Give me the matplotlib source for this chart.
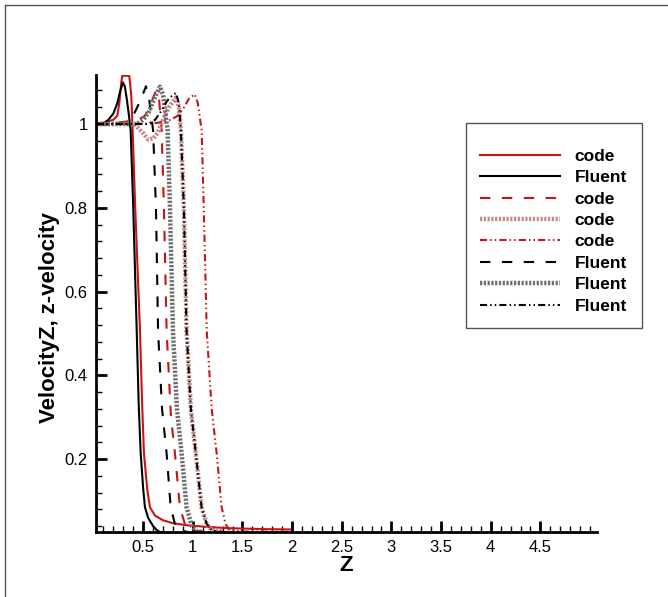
import matplotlib.pyplot as plt
from matplotlib.lines import Line2D
from matplotlib.patches import Rectangle
from matplotlib.ticker import AutoMinorLocator

plt.rcParams['font.family'] = ['Liberation Sans', 'DejaVu Sans']

# z-velocity profiles along Z: in-house code vs Fluent, four cases
z_code1 = [0.03, 0.1, 0.2, 0.24, 0.26, 0.28, 0.29, 0.36, 0.38, 0.394, 0.42, 0.468, 0.49,
           0.508, 0.54, 0.568, 0.62, 0.70, 0.80, 0.94, 1.15, 1.37, 1.7, 1.98]
w_code1 = [1.0, 1.003, 1.01, 1.02, 1.05, 1.10, 1.115, 1.115, 1.07, 0.985, 0.80, 0.507, 0.33,
           0.214, 0.13, 0.085, 0.065, 0.054, 0.047, 0.042, 0.038, 0.035, 0.033, 0.032]

z_fluent1 = [0.03, 0.1, 0.15, 0.2, 0.24, 0.27, 0.297, 0.315, 0.335, 0.357, 0.374, 0.40,
             0.435, 0.455, 0.475, 0.50, 0.518, 0.55, 0.60, 0.64, 0.67, 0.72]
w_fluent1 = [1.0, 1.002, 1.01, 1.025, 1.05, 1.08, 1.099, 1.09, 1.06, 1.02, 0.985, 0.80,
             0.507, 0.33, 0.214, 0.13, 0.085, 0.06, 0.04, 0.03, 0.026, 0.025]

z_code2 = [0.03, 0.3, 0.45, 0.52, 0.58, 0.62, 0.64, 0.66, 0.686, 0.709, 0.736, 0.78,
           0.82, 0.87, 0.92, 0.99, 1.1]
w_code2 = [1.0, 1.005, 1.01, 1.02, 1.05, 1.075, 1.08, 1.06, 0.985, 0.80, 0.507, 0.30,
           0.214, 0.085, 0.045, 0.03, 0.027]

z_code3 = [0.03, 0.4, 0.45, 0.5, 0.55, 0.6, 0.65, 0.7, 0.76, 0.83, 0.86, 0.88, 0.91,
           0.937, 0.98, 1.03, 1.088, 1.14, 1.19, 1.3]
w_code3 = [1.0, 1.0, 0.99, 0.978, 0.963, 0.965, 0.98, 1.01, 1.04, 1.063, 1.04, 0.985, 0.80,
           0.507, 0.32, 0.214, 0.085, 0.045, 0.03, 0.027]

z_code4 = [0.03, 0.5, 0.65, 0.78, 0.85, 0.9, 0.96, 1.02, 1.05, 1.089, 1.11, 1.14, 1.19,
           1.24, 1.29, 1.33, 1.37, 1.5, 1.98]
w_code4 = [1.0, 1.0, 1.003, 1.01, 1.02, 1.035, 1.06, 1.071, 1.05, 0.985, 0.80, 0.507, 0.32,
           0.214, 0.085, 0.045, 0.03, 0.027, 0.026]

z_fluent2 = [0.03, 0.35, 0.42, 0.48, 0.528, 0.56, 0.60, 0.629, 0.65, 0.69, 0.736, 0.777,
             0.82, 0.87, 0.95]
w_fluent2 = [1.0, 1.0, 1.03, 1.06, 1.09, 1.06, 0.985, 0.80, 0.507, 0.32, 0.214, 0.085,
             0.045, 0.03, 0.026]

z_fluent3 = [0.03, 0.44, 0.5, 0.56, 0.62, 0.669, 0.70, 0.746, 0.77, 0.80, 0.84, 0.887,
             0.937, 0.99, 1.04, 1.1]
w_fluent3 = [1.0, 1.0, 1.01, 1.03, 1.065, 1.089, 1.07, 0.985, 0.80, 0.507, 0.32, 0.214,
             0.085, 0.04, 0.028, 0.026]

z_fluent4 = [0.03, 0.55, 0.62, 0.68, 0.74, 0.80, 0.83, 0.86, 0.88, 0.91, 0.937, 0.98,
             1.03, 1.088, 1.14, 1.19, 1.3]
w_fluent4 = [1.0, 1.0, 1.01, 1.03, 1.055, 1.07, 1.074, 1.05, 0.985, 0.80, 0.507, 0.32,
             0.214, 0.085, 0.045, 0.03, 0.026]

x_ticks = [0.5, 1, 1.5, 2, 2.5, 3, 3.5, 4, 4.5]
x_ticklabels = ['0.5', '1', '1.5', '2', '2.5', '3', '3.5', '4', '4.5']
y_ticks = [0.2, 0.4, 0.6, 0.8, 1.0]
y_ticklabels = ['0.2', '0.4', '0.6', '0.8', '1']

red = '#c81414'
dashed = (0, (5, 5.5))
dashdotdot = (0, (3.4, 1.5, 0.7, 1.5, 0.7, 1.5))
dotted = (0, (0.5, 0.35))

fig = plt.figure(figsize=(6.68, 5.97), dpi=100)
ax = fig.add_axes([0.1437, 0.1089, 0.75, 0.7655])

ax.plot(z_code1, w_code1, color=red, lw=1.5, label='code')
ax.plot(z_fluent1, w_fluent1, color='black', lw=1.5, label='Fluent')
ax.plot(z_code2, w_code2, color=red, lw=1.5, ls=dashed, label='code')
ax.plot(z_code3, w_code3, color='#c48a8a', lw=3.2, ls=dotted, label='code')
ax.plot(z_code4, w_code4, color=red, lw=1.5, ls=dashdotdot, label='code')
ax.plot(z_fluent2, w_fluent2, color='black', lw=1.5, ls=dashed, label='Fluent')
ax.plot(z_fluent3, w_fluent3, color='#6e6e6e', lw=3.2, ls=dotted, label='Fluent')
ax.plot(z_fluent4, w_fluent4, color='black', lw=1.5, ls=dashdotdot, label='Fluent')

ax.set_xlim(0.025, 5.07)
ax.set_ylim(0.026, 1.117)

ax.set_xticks(x_ticks)
ax.set_xticklabels(x_ticklabels)
ax.set_yticks(y_ticks)
ax.set_yticklabels(y_ticklabels)
ax.xaxis.set_minor_locator(AutoMinorLocator(5))
ax.yaxis.set_minor_locator(AutoMinorLocator(5))

ax.tick_params(which='major', direction='in', length=8, width=2, labelsize=12, pad=6)
ax.tick_params(which='minor', direction='in', length=4, width=1)
for side in ['top', 'right']:
    ax.spines[side].set_visible(False)
for side in ['left', 'bottom']:
    ax.spines[side].set_linewidth(2)

ax.set_xlabel('Z', fontsize=16, fontweight='bold', labelpad=0)
ax.set_ylabel('VelocityZ, z-velocity', fontsize=16, fontweight='bold')
ax.yaxis.set_label_coords(-0.072, 0.47)

# legend entries without frame, box drawn separately
leg = ax.legend(loc='upper left', bbox_to_anchor=(0.7186, 0.751),
                bbox_transform=fig.transFigure, frameon=False,
                handlelength=4.6, handletextpad=0.86, labelspacing=0.36,
                borderpad=0, borderaxespad=0,
                prop={'weight': 'bold', 'size': 12.5})
fig.add_artist(Rectangle((0.6976, 0.4506), 0.2635, 0.3434, transform=fig.transFigure,
                         fill=False, edgecolor='#555555', lw=1))

# outer frame around the figure
fig.add_artist(Line2D([0.0075, 1.0], [0.9916, 0.9916], color='#555555', lw=1))
fig.add_artist(Line2D([0.0075, 0.0075], [0.0, 0.9916], color='#555555', lw=1))

fig.savefig('out.png', dpi=100)
